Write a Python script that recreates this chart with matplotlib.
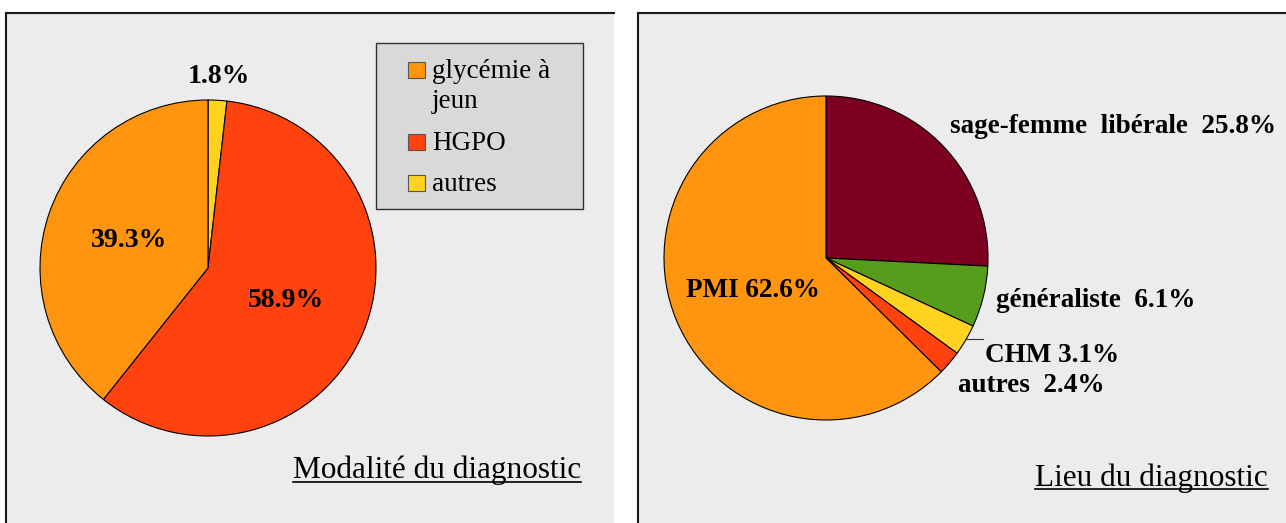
import matplotlib.pyplot as plt
import numpy as np
from matplotlib.patches import Rectangle
from matplotlib.lines import Line2D

plt.rcParams['font.family'] = ['Liberation Serif', 'DejaVu Serif']

# donnees
modalite_labels = ['glycémie à\njeun', 'HGPO', 'autres']
modalite_values = [39.3, 58.9, 1.8]
modalite_colors = ['#ff950e', '#ff420e', '#ffd320']

lieu_labels = ['sage-femme  libérale', 'généraliste', 'CHM', 'autres', 'PMI']
lieu_values = [25.8, 6.1, 3.1, 2.4, 62.6]
lieu_colors = ['#7e0021', '#579d1c', '#ffd320', '#ff420e', '#ff950e']

W, H = 1286, 523
fig = plt.figure(figsize=(W / 100, H / 100), dpi=100)
fig.patch.set_facecolor('white')


def px_box(x0, y0, w, h):
    # pixels (origine en haut a gauche) -> coordonnees figure
    return [x0 / W, 1 - (y0 + h) / H, w / W, h / H]


# panneaux de fond
for (x0, x1) in [(6, 614), (638, 1286)]:
    b = px_box(x0, 13, x1 - x0, H - 13)
    fig.add_artist(Rectangle((b[0], b[1]), b[2], b[3], transform=fig.transFigure,
                             facecolor='#ececec', edgecolor='none', zorder=0))
    fig.add_artist(Line2D([b[0], b[0] + b[2]], [b[1] + b[3]] * 2, transform=fig.transFigure,
                          color='#1a1a1a', lw=1.5, zorder=1))
    fig.add_artist(Line2D([b[0], b[0]], [b[1], b[1] + b[3]], transform=fig.transFigure,
                          color='#1a1a1a', lw=1.5, zorder=1))

# ========== camembert gauche ==========
cx, cy, r = 208, 268, 168
ax1 = fig.add_axes(px_box(cx - r, cy - r, 2 * r, 2 * r))
vals = modalite_values[::-1]
wedges, _ = ax1.pie(vals, colors=modalite_colors[::-1], startangle=90, counterclock=False,
                    wedgeprops={'edgecolor': 'black', 'linewidth': 0.8})
ax1.set_xlim(-1, 1)
ax1.set_ylim(-1, 1)
ax1.axis('off')

label_r = [1.14, 0.5, 0.5]
for w, v, lr in zip(wedges, vals, label_r):
    ang = np.deg2rad((w.theta1 + w.theta2) / 2)
    ax1.text(lr * np.cos(ang), lr * np.sin(ang), f'{v}%', ha='center', va='center',
             fontsize=20, fontweight='bold', clip_on=False)

# legende faite a la main
lb = px_box(376, 43, 207, 166)
fig.add_artist(Rectangle((lb[0], lb[1]), lb[2], lb[3], transform=fig.transFigure,
                         facecolor='#d9d9d9', edgecolor='#333333', lw=1.0, zorder=2))
sq_bottom = [78, 150, 191]
text_base = [108, 150, 191]   # ligne de base de la derniere ligne
for lab, col, ys, yt in zip(modalite_labels, modalite_colors, sq_bottom, text_base):
    sq = px_box(408, ys - 16, 17, 16)
    fig.add_artist(Rectangle((sq[0], sq[1]), sq[2], sq[3], transform=fig.transFigure,
                             facecolor=col, edgecolor='#555555', lw=0.8, zorder=3))
    fig.text(432 / W, 1 - yt / H, lab, ha='left', va='baseline',
             fontsize=19.5, linespacing=1.25, zorder=3, transform=fig.transFigure)

# ========== camembert droit ==========
cx2, cy2, r2 = 826, 258, 162
ax2 = fig.add_axes(px_box(cx2 - r2, cy2 - r2, 2 * r2, 2 * r2))
wedges2, _ = ax2.pie(lieu_values, colors=lieu_colors, startangle=90, counterclock=False,
                     wedgeprops={'edgecolor': 'black', 'linewidth': 0.8})
ax2.set_xlim(-1, 1)
ax2.set_ylim(-1, 1)
ax2.axis('off')

lieu_pos = [(0.765, 0.81), (1.05, -0.265), (0.98, -0.6), (0.815, -0.79), (-0.864, -0.198)]
lieu_sep = ['  ', '  ', ' ', '  ', ' ']
for lab, v, sep, (tx, ty) in zip(lieu_labels, lieu_values, lieu_sep, lieu_pos):
    ax2.text(tx, ty, f'{lab}{sep}{v}%', ha='left', va='center',
             fontsize=19.5, fontweight='bold', clip_on=False)
# trait de rappel pour CHM
ax2.plot([0.858, 0.969], [-0.5, -0.5], color='#333333', lw=0.8, clip_on=False)

# titres soulignes
fig.canvas.draw()
renderer = fig.canvas.get_renderer()
for txt, xr, yb, yu in [('Modalité du diagnostic', 581, 478, 481.5),
                        ('Lieu du diagnostic', 1268, 486, 489)]:
    t = fig.text(xr / W, 1 - yb / H, txt, ha='right', va='baseline', fontsize=22.5)
    bb = t.get_window_extent(renderer)
    fig.add_artist(Line2D([bb.x0 / W, bb.x1 / W], [1 - yu / H] * 2, transform=fig.transFigure,
                          color='black', lw=1.2))

plt.savefig('out.png', dpi=100)
